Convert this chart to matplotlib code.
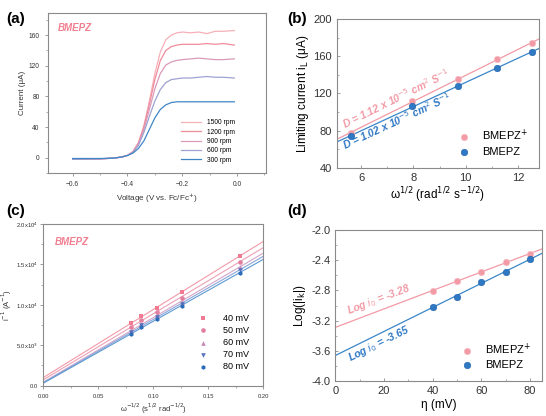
import numpy as np
import matplotlib
matplotlib.use('Agg')
import matplotlib.pyplot as plt
from matplotlib.ticker import FuncFormatter, MultipleLocator

plt.rcParams['font.family'] = ['Liberation Sans', 'DejaVu Sans']
plt.rcParams['mathtext.fontset'] = 'dejavusans'

# ---- data: panel (a), LSV curves
volt = [-0.60, -0.50, -0.45, -0.42, -0.40, -0.38, -0.36, -0.34, -0.32, -0.30, -0.28,
        -0.26, -0.24, -0.22, -0.20, -0.17, -0.14, -0.11, -0.08, -0.05, -0.01]
i_1500 = [-2, -1.5, -0.5, 1, 3, 8, 20, 42, 74, 110, 138, 154, 160, 163, 164, 163, 164, 162, 165, 165, 166]
i_1200 = [-2, -1.5, -0.5, 1, 3, 8, 19, 40, 70, 102, 127, 140, 145, 147, 148, 148, 148, 149, 148, 149, 147]
i_900 = [-2, -1.5, -0.5, 1, 3, 7, 18, 37, 63, 90, 110, 121, 125, 127, 128, 129, 130, 129, 128, 128, 129]
i_600 = [-2, -1.5, -0.5, 1, 3, 7, 16, 33, 54, 74, 89, 98, 102, 103, 104, 104, 105, 106, 105, 105, 104]
i_300 = [-1, -1, -0.5, 1, 3, 6, 12, 22, 37, 52, 63, 69, 72, 73, 73, 73, 73, 73, 73, 73, 73]
rpm_labels = ['1500 rpm', '1200 rpm', '900 rpm', '600 rpm', '300 rpm']

# ---- panel (b), Levich
w_half = [5.60, 7.93, 9.71, 11.21, 12.53]
il_plus = [77, 112, 135, 157, 174]
il_neutral = [74, 106, 128, 147, 165]

# ---- panel (c), Koutecky-Levich
w_mhalf = [0.0798, 0.0892, 0.1030, 0.1260, 0.1784]
inv_40 = [7700, 8640, 9590, 11560, 16050]
inv_50 = [7200, 8150, 9140, 10900, 15350]
inv_60 = [6790, 7650, 8680, 10330, 14730]
inv_70 = [6580, 7450, 8440, 10080, 14360]
inv_80 = [6380, 7200, 8230, 9880, 13990]
mv_labels = ['40 mV', '50 mV', '60 mV', '70 mV', '80 mV']

# ---- panel (d), Tafel
eta = [40, 50, 60, 70, 80]
logik_plus = [-2.81, -2.67, -2.55, -2.43, -2.32]
logik_neutral = [-3.02, -2.88, -2.69, -2.55, -2.39]

pink = '#f29aa6'
blue = '#2f78c4'
gray = '#8a8a8a'

fig = plt.figure(figsize=(5.46, 4.16), dpi=100)


def style_axes(ax, direction, size):
    for s in ax.spines.values():
        s.set_color(gray)
        s.set_linewidth(0.8)
    ax.tick_params(which='both', direction=direction, color=gray, labelsize=size, labelcolor='#333333')
    ax.tick_params(which='major', length=2.5, width=0.6)
    ax.tick_params(which='minor', length=1.5, width=0.5)


def line_angle(ax, x0, y0, x1, y1):
    p = ax.transData.transform([(x0, y0), (x1, y1)])
    return np.degrees(np.arctan2(p[1, 1] - p[0, 1], p[1, 0] - p[0, 0]))


# ---------------- (a)
ax = fig.add_axes([0.0879, 0.584, 0.399, 0.385])
cols_a = ['#f6b0b8', '#ef8c9a', '#d99ab9', '#9ea2d2', '#3f86c6']
for cur, c, lab in zip([i_1500, i_1200, i_900, i_600, i_300], cols_a, rpm_labels):
    ax.plot(volt, cur, color=c, lw=0.9, label=lab)
ax.set_xlim(-0.69, 0.105)
ax.set_ylim(-20, 189)
ax.xaxis.set_major_locator(MultipleLocator(0.2))
ax.xaxis.set_minor_locator(MultipleLocator(0.1))
ax.yaxis.set_major_locator(MultipleLocator(40))
ax.yaxis.set_minor_locator(MultipleLocator(20))
style_axes(ax, 'out', 4.8)
ax.set_xlabel('Voltage (V vs. Fc/Fc$^{+}$)', fontsize=5.8, color='#333333', labelpad=2)
ax.set_ylabel('Current (μA)', fontsize=5.8, color='#333333', labelpad=2)
ax.text(0.047, 0.905, 'BMEPZ', transform=ax.transAxes, color='#f07f90',
        fontsize=7, fontweight='bold', style='italic', va='center')
ax.legend(loc='lower right', frameon=False, fontsize=4.8, handlelength=3,
          labelspacing=0.35, borderaxespad=1.0, bbox_to_anchor=(0.9, 0.0))
fig.text(0.012, 0.97, '(a)', fontsize=11, fontweight='bold', va='top')

# ---------------- (b)
ax = fig.add_axes([0.617, 0.597, 0.370, 0.357])
ax.set_xlim(5.07, 12.8)
ax.set_ylim(40, 200)
xx = np.array([5.07, 12.8])
kp = np.polyfit(w_half, il_plus, 1)
kn = np.polyfit(w_half, il_neutral, 1)
ax.plot(xx, np.polyval(kp, xx), color=pink, lw=0.9)
ax.plot(xx, np.polyval(kn, xx), color='#3a86c8', lw=0.9)
ax.scatter(w_half, il_plus, s=22, color=pink, edgecolor='#f7c0c6', linewidth=0.4, zorder=3, label='BMEPZ$^{+}$')
ax.scatter(w_half, il_neutral, s=22, color=blue, edgecolor='#1f5fa8', linewidth=0.4, zorder=3, label='BMEPZ')
ax.xaxis.set_major_locator(MultipleLocator(2))
ax.xaxis.set_minor_locator(MultipleLocator(1))
ax.yaxis.set_major_locator(MultipleLocator(40))
ax.yaxis.set_minor_locator(MultipleLocator(20))
style_axes(ax, 'in', 8)
ax.set_xlabel('ω$^{1/2}$ (rad$^{1/2}$ s$^{-1/2}$)', fontsize=8.5, labelpad=2)
ax.set_ylabel('Limiting current i$_{\\rm L}$ (μA)', fontsize=8.5, labelpad=2)
ang = line_angle(ax, 5.07, np.polyval(kp, 5.07), 12.8, np.polyval(kp, 12.8))
ax.text(7.33, np.polyval(kp, 7.33) + 12, 'D = 1.12 x 10$^{-5}$ cm$^{2}$ S$^{-1}$', color=pink,
        fontsize=7.5, fontweight='bold', style='italic', rotation=ang, ha='center', va='center',
        rotation_mode='anchor')
ang = line_angle(ax, 5.07, np.polyval(kn, 5.07), 12.8, np.polyval(kn, 12.8))
ax.text(7.35, np.polyval(kn, 7.35) - 7, 'D = 1.02 x 10$^{-5}$ cm$^{2}$ S$^{-1}$', color=blue,
        fontsize=7.5, fontweight='bold', style='italic', rotation=ang, ha='center', va='center',
        rotation_mode='anchor')
ax.legend(loc='lower right', frameon=False, fontsize=8, handletextpad=0.6, labelspacing=0.3,
          scatterpoints=1, borderaxespad=0.6)
fig.text(0.527, 0.97, '(b)', fontsize=11, fontweight='bold', va='top')

# ---------------- (c)
ax = fig.add_axes([0.0793, 0.0728, 0.403, 0.389])
cols_c = ['#f07a92', '#e37f9e', '#c58ab4', '#5870c0', '#2a6cb8']
lcols_c = ['#f39aa8', '#eda0b4', '#d2a6c8', '#8aa6d8', '#5c9ad2']
markers = ['s', 'o', '^', 'v', 'h']
xl = np.array([0.0, 0.2])
for y, c, lc, m, lab in zip([inv_40, inv_50, inv_60, inv_70, inv_80], cols_c, lcols_c, markers, mv_labels):
    k = np.polyfit(w_mhalf, y, 1)
    ax.plot(xl, np.polyval(k, xl), color=lc, lw=0.8)
    ax.scatter(w_mhalf, y, marker=m, s=11, color=c, zorder=3, label=lab, linewidth=0)
ax.set_xlim(0, 0.2)
ax.set_ylim(0, 20000)
ax.xaxis.set_major_locator(MultipleLocator(0.05))
ax.xaxis.set_minor_locator(MultipleLocator(0.025))
ax.yaxis.set_major_locator(MultipleLocator(5000))
ax.yaxis.set_minor_locator(MultipleLocator(2500))
ax.xaxis.set_major_formatter(FuncFormatter(lambda v, p: '%.2f' % v))


def sci_fmt(v, p):
    if v <= 0:
        return '0.0' if abs(v) < 1e-9 else ''
    e = int(np.floor(np.log10(v)))
    return '%.1fx10$^{%d}$' % (v / 10 ** e, e)


ax.yaxis.set_major_formatter(FuncFormatter(sci_fmt))
style_axes(ax, 'out', 4.2)
ax.tick_params(axis='y', pad=1.5)
ax.set_xlabel('ω$^{-1/2}$ (s$^{1/2}$ rad$^{-1/2}$)', fontsize=5.5, color='#333333', labelpad=1.5)
ax.set_ylabel('i$^{-1}$ (A$^{-1}$)', fontsize=5.5, color='#333333', labelpad=1.5)
ax.text(0.053, 0.89, 'BMEPZ', transform=ax.transAxes, color='#f07f90',
        fontsize=7, fontweight='bold', style='italic', va='center')
ax.legend(loc='lower right', frameon=False, fontsize=6.5, labelspacing=0.35,
          scatterpoints=1, borderaxespad=1.2, handletextpad=1.2)
fig.text(0.012, 0.51, '(c)', fontsize=11, fontweight='bold', va='top')

# ---------------- (d)
ax = fig.add_axes([0.614, 0.0834, 0.379, 0.364])
ax.set_xlim(0, 85)
ax.set_ylim(-4.0, -2.0)
xe = np.array([0.0, 85.0])
kp = np.polyfit(eta, logik_plus, 1)
kn = np.polyfit(eta, logik_neutral, 1)
ax.plot(xe, np.polyval(kp, xe), color=pink, lw=0.9)
ax.plot(xe, np.polyval(kn, xe), color='#3a86c8', lw=0.9)
ax.scatter(eta, logik_plus, s=22, color=pink, edgecolor='#f7c0c6', linewidth=0.4, zorder=3, label='BMEPZ$^{+}$')
ax.scatter(eta, logik_neutral, s=22, color=blue, edgecolor='#1f5fa8', linewidth=0.4, zorder=3, label='BMEPZ')
ax.xaxis.set_major_locator(MultipleLocator(20))
ax.xaxis.set_minor_locator(MultipleLocator(10))
ax.yaxis.set_major_locator(MultipleLocator(0.4))
ax.yaxis.set_minor_locator(MultipleLocator(0.2))
ax.yaxis.set_major_formatter(FuncFormatter(lambda v, p: '%.1f' % v))
style_axes(ax, 'in', 8)
ax.set_xlabel('η (mV)', fontsize=8.5, labelpad=2)
ax.set_ylabel('Log(|i$_{\\rm k}$|)', fontsize=8.5, labelpad=2)
ang = line_angle(ax, 0, np.polyval(kp, 0), 85, np.polyval(kp, 85))
ax.text(18, np.polyval(kp, 18) + 0.15, 'Log $\\mathit{i}_{0}$ = -3.28', color=pink,
        fontsize=7.5, fontweight='bold', style='italic', rotation=ang, ha='center', va='center',
        rotation_mode='anchor')
ang = line_angle(ax, 0, np.polyval(kn, 0), 85, np.polyval(kn, 85))
ax.text(18.2, np.polyval(kn, 18.2) - 0.13, 'Log $\\mathit{i}_{0}$ = -3.65', color=blue,
        fontsize=7.5, fontweight='bold', style='italic', rotation=ang, ha='center', va='center',
        rotation_mode='anchor')
ax.legend(loc='lower right', frameon=False, fontsize=8, handletextpad=0.6, labelspacing=0.3,
          scatterpoints=1, borderaxespad=0.6)
fig.text(0.527, 0.51, '(d)', fontsize=11, fontweight='bold', va='top')

fig.savefig('out.png', dpi=100)
